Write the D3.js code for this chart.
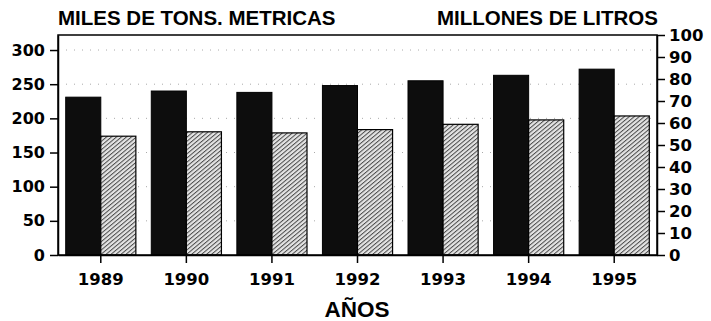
<!DOCTYPE html>
<html>
<head>
<meta charset="utf-8">
<script src="https://cdn.jsdelivr.net/npm/d3@7"></script>
<style>
  body { margin: 0; background: #fff; }
  text { font-family: "Liberation Sans", Arial, sans-serif; fill: #000; }
</style>
</head>
<body>
<div id="chart"></div>
<script>
// data
var years = ["1989", "1990", "1991", "1992", "1993", "1994", "1995"];
var tons = [231, 240, 238, 248, 255, 263, 272];          // miles de tons. metricas (left axis)
var litros = [54, 56, 55.5, 57, 59.4, 61.4, 63.2];       // millones de litros (right axis)
var leftTicks = [0, 50, 100, 150, 200, 250, 300];
var rightTicks = [0, 10, 20, 30, 40, 50, 60, 70, 80, 90, 100];

var W = 711, H = 321;
var margin = {top: 35, right: 54, bottom: 66, left: 58},
    width = W - margin.left - margin.right,
    height = H - margin.top - margin.bottom;

var svg = d3.select("#chart")
  .append("svg")
    .attr("width", W)
    .attr("height", H);

// hatch pattern for the second series
var defs = svg.append("defs");
var pat = defs.append("pattern")
    .attr("id", "hatch")
    .attr("patternUnits", "userSpaceOnUse")
    .attr("width", 3.2)
    .attr("height", 3.2)
    .attr("patternTransform", "rotate(50)");
pat.append("rect").attr("width", 3.2).attr("height", 3.2).attr("fill", "#e4e4e4");
pat.append("line")
    .attr("x1", 0.5).attr("y1", 0).attr("x2", 0.5).attr("y2", 3.2)
    .attr("stroke", "#4a4a4a").attr("stroke-width", 1);

var g = svg.append("g")
    .attr("transform", "translate(" + margin.left + "," + margin.top + ")");

var x0 = d3.scaleBand().domain(years).range([0, width]).padding(0);
var x1 = d3.scaleBand().domain(["tons", "litros"])
    .range([0, x0.bandwidth()]).paddingInner(0).paddingOuter(0.22);
var yL = d3.scaleLinear().domain([0, 322]).range([height, 0]);
var yR = d3.scaleLinear().domain([0, 100]).range([height, 0]);

// faint dotted grid lines
g.selectAll(".grid")
  .data(leftTicks.filter(function(d) { return d > 0; }))
  .enter().append("line")
    .attr("x1", 0).attr("x2", width)
    .attr("y1", function(d) { return yL(d); })
    .attr("y2", function(d) { return yL(d); })
    .attr("stroke", "#aaa")
    .attr("stroke-width", 1)
    .attr("stroke-dasharray", "1,7");

var groups = g.selectAll(".yr")
  .data(years)
  .enter().append("g")
    .attr("transform", function(d) { return "translate(" + x0(d) + ",0)"; });

groups.append("rect")
    .attr("x", x1("tons"))
    .attr("y", function(d, i) { return yL(tons[i]); })
    .attr("width", x1.bandwidth())
    .attr("height", function(d, i) { return height - yL(tons[i]); })
    .attr("fill", "#0d0d0d")
    .attr("stroke", "#000")
    .attr("stroke-width", 1);

groups.append("rect")
    .attr("x", x1("litros"))
    .attr("y", function(d, i) { return yR(litros[i]); })
    .attr("width", x1.bandwidth())
    .attr("height", function(d, i) { return height - yR(litros[i]); })
    .attr("fill", "url(#hatch)")
    .attr("stroke", "#000")
    .attr("stroke-width", 1.2);

// frame
g.append("rect")
    .attr("width", width).attr("height", height)
    .attr("fill", "none")
    .attr("stroke", "#000")
    .attr("stroke-width", 1.5);

// axes
var leftAxis = g.append("g")
    .call(d3.axisLeft(yL).tickValues(leftTicks).tickSize(8).tickPadding(5).tickSizeOuter(0));
var rightAxis = g.append("g")
    .attr("transform", "translate(" + width + ",0)")
    .call(d3.axisRight(yR).tickValues(rightTicks).tickSize(8).tickPadding(4).tickSizeOuter(0));
var bottomAxis = g.append("g")
    .attr("transform", "translate(0," + height + ")")
    .call(d3.axisBottom(x0).tickSize(8).tickPadding(10).tickSizeOuter(0));

[leftAxis, rightAxis, bottomAxis].forEach(function(a) {
  a.select(".domain").attr("stroke", "#000").attr("stroke-width", 1.5);
  a.selectAll(".tick line").attr("stroke", "#000").attr("stroke-width", 1.5);
  a.selectAll("text")
    .style("font-family", "'DejaVu Sans', sans-serif")
    .style("font-weight", "bold")
    .style("font-size", "16px")
    .attr("fill", "#000");
});
rightAxis.selectAll("text").style("font-size", "16.5px");
bottomAxis.selectAll("text").style("font-size", "16.5px");

// titles
svg.append("text")
    .attr("x", margin.left)
    .attr("y", 25)
    .attr("font-size", 20.5)
    .attr("font-weight", "bold")
    .text("MILES DE TONS. METRICAS");

svg.append("text")
    .attr("x", margin.left + width + 1)
    .attr("y", 25)
    .attr("text-anchor", "end")
    .attr("font-size", 20.5)
    .attr("font-weight", "bold")
    .text("MILLONES DE LITROS");

svg.append("text")
    .attr("x", 357)
    .attr("y", 317)
    .attr("text-anchor", "middle")
    .attr("font-size", 22.5)
    .attr("font-weight", "bold")
    .text("AÑOS");
</script>
</body>
</html>
